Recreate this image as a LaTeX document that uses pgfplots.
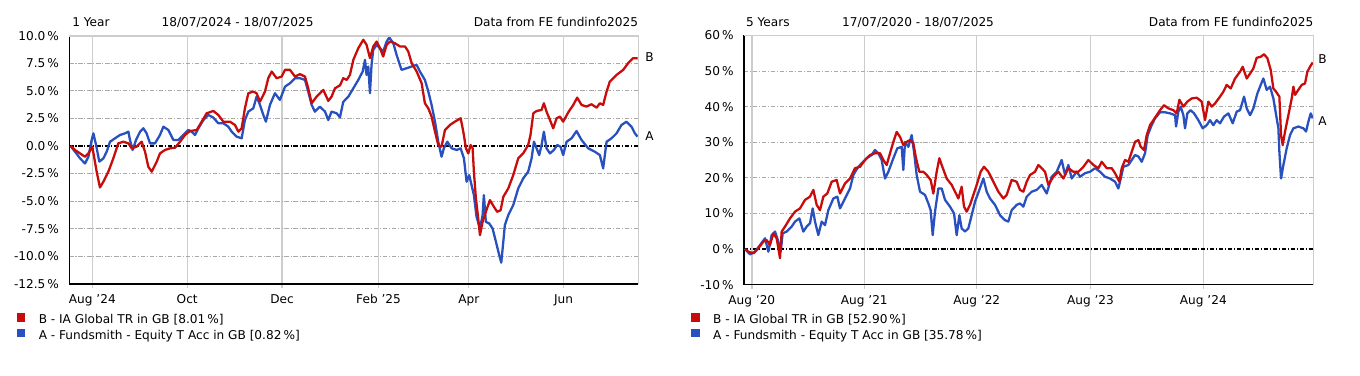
\documentclass[border=0pt]{standalone}
\usepackage{fontspec}
\setmainfont{DejaVu Sans}
\usepackage{pgfplots}
\pgfplotsset{compat=1.18}
\definecolor{fred}{RGB}{200,12,12}
\definecolor{fblue}{RGB}{40,80,190}
\definecolor{vgrid}{RGB}{205,205,205}
\definecolor{hgrid}{RGB}{170,170,170}
\newcommand\fs{\fontsize{6.9}{8.3}\selectfont}
\pgfplotsset{fe/.style={
  scale only axis, clip=false, anchor=south west,
  axis lines=left, axis line style={-, black, line width=0.9pt},
  font=\fs, tick label style={font=\fs},
  xmajorgrids, ymajorgrids,
  major x grid style={vgrid, line width=0.8pt},
  major y grid style={hgrid, line width=0.5pt, dash pattern=on 2.5pt off 1pt on 0.6pt off 1pt},
  tick align=outside,
  xtick style={vgrid, line width=0.8pt}, major tick length=2.3pt,
  ytick style={draw=none},
  yticklabel style={anchor=east, inner sep=0pt, xshift=-3.4pt},
  xticklabel style={anchor=base, inner sep=0pt, yshift=-8.8pt},
  extra y ticks={0}, extra y tick labels={},
  extra y tick style={major y grid style={black, line width=0.6pt, dash pattern=on 2.5pt off 1pt on 0.6pt off 1pt}},
  every axis plot/.append style={line width=1.3pt, line join=round, no markers},
}}
\begin{document}
\begin{tikzpicture}
\useasboundingbox (0,0) rectangle (27.2cm,7.5cm);
% ---------------- left: 1 year ----------------
\begin{axis}[fe, at={(1.386cm,1.824cm)}, width=11.38cm, height=4.96cm,
  xmin=-0.8, xmax=365, ymin=-12.5, ymax=10,
  xtick={14,75,136,198,256,317}, xticklabels={Aug '24,Oct,Dec,Feb '25,Apr,Jun},
  ytick={-12.5,-10,-7.5,-5,-2.5,0,2.5,5,7.5,10},
  yticklabels={-12.5\,\%,-10.0\,\%,-7.5\,\%,-5.0\,\%,-2.5\,\%,0.0\,\%,2.5\,\%,5.0\,\%,7.5\,\%,10.0\,\%}]
\addplot[fblue] coordinates {
(0,0) (2.9,-0.52) (6.1,-1.12) (9.3,-1.58) (11.5,-0.97) (13.6,0.55) (14.7,1.15) (16.4,0.09) (18.5,-1.42) (21.1,-1.12) (23.2,-0.52) (25.4,0.39) (28.6,0.70) (31.8,1.0) (35,1.15) (37.2,1.30) (38.2,0.55) (39.9,-0.36) (42.1,0.55) (44.7,1.30) (46.8,1.61) (48.9,1.15) (51.1,0.24) (54.3,0.24) (57.5,1.0) (59.7,1.76) (62.9,1.45) (66.1,0.55) (69.3,0.55) (72.5,1.0) (75.7,1.45) (77.9,1.30) (80,1.0) (82.2,1.61) (85.4,2.36) (88.6,2.82) (91.8,2.58) (95,2.06) (98.2,2.06) (101.4,1.76) (103.6,1.30) (106.8,0.85) (110,0.70) (112.1,2.36) (114.3,3.12) (117.5,3.42) (119.6,4.48) (121.8,3.73) (123.9,2.82) (125.6,2.21) (128.2,3.73) (131.4,4.79) (134.6,4.18) (137.9,5.39) (141.1,5.70) (144.3,6.15) (147.5,6.15) (150.7,6.0) (152.8,4.94) (155,3.73) (157.1,3.12) (160.3,3.58) (163.6,3.12) (165.7,2.36) (167.8,3.12) (171.1,2.97) (173.2,2.6) (175.3,4.0) (178.6,4.48) (181.8,5.24) (185,6.0) (187.8,6.76) (189.3,7.82) (190.3,6.45) (191.4,7.21) (192.5,4.79) (193.5,7.36) (194.6,8.73) (196.8,9.18) (198.9,8.88) (201,8.58) (203.2,9.48) (204.9,9.85) (207.5,9.33) (209.6,8.27) (212.8,6.91) (216,7.06) (219.3,7.21) (222.5,7.36) (224.6,6.76) (227.8,6.0) (230,4.94) (232.1,3.73) (234.3,2.21) (236.4,0.39) (238.5,-0.97) (240,-0.21) (242.2,0.39) (245,-0.21) (248.2,-0.36) (250.8,-0.21) (252.9,-1.12) (254.6,-3.24) (256.3,-2.64) (257.8,-3.55) (259.3,-4.45) (261,-6.42) (263.2,-7.48) (264.9,-6.27) (265.7,-4.45) (267,-6.88) (269.2,-7.03) (271.3,-7.48) (273.5,-8.70) (275.6,-9.91) (276.9,-10.58) (278.2,-8.70) (279.2,-7.18) (281.4,-6.27) (284.6,-5.36) (287.8,-3.85) (291,-2.94) (294.2,-2.33) (296.4,-1.12) (297.9,0.39) (299.6,-0.21) (301.3,-0.82) (302.8,0.09) (304.3,1.30) (306,-0.21) (308.2,-0.67) (310.7,-0.36) (312.9,0.09) (315,-0.06) (316.7,-0.82) (318.9,0.39) (322.1,0.70) (325.3,1.36) (328.5,0.55) (332.8,-0.21) (337.1,-0.52) (340.3,-0.82) (342.4,-2.03) (344.6,0.39) (347.8,0.70) (351,1.15) (354.2,1.91) (357.4,2.21) (360.6,1.76) (362.8,1.15) (364.5,0.85)};
\addplot[fred] coordinates {
(0,0) (2.9,-0.36) (6.1,-0.67) (9.3,-0.97) (11.5,-0.67) (14,-0.06) (16.8,-2.33) (18.9,-3.76) (21.1,-3.24) (24.3,-2.33) (27.5,-1.12) (30.7,0.24) (33.9,0.39) (37.2,0.24) (39.3,-0.21) (42.5,-0.06) (45.7,0.39) (47.9,-0.52) (50,-1.88) (52.2,-2.33) (55.4,-1.42) (57.5,-0.67) (60.7,-0.36) (63.9,-0.21) (67.2,-0.15) (70.4,0.39) (73.6,1.0) (76.8,1.36) (81.1,1.45) (84.3,2.21) (87.5,2.97) (91.8,3.18) (95,2.82) (98.2,2.21) (102.5,2.21) (105.7,1.91) (107.9,1.30) (110,1.61) (112.1,3.42) (114.3,4.79) (117.5,4.94) (119.6,4.79) (121.8,4.03) (125,4.94) (127.1,6.15) (129.3,6.76) (132.5,6.15) (135.7,6.30) (137.9,6.91) (141.1,6.91) (144.3,6.30) (147.5,6.52) (150.7,6.30) (152.8,5.24) (155,3.88) (158.2,4.48) (162.5,5.09) (165.7,4.09) (167.8,4.48) (170,5.24) (173.2,5.5) (175.3,6.15) (177.5,6.0) (179.6,6.45) (181.8,7.82) (185,8.88) (188.2,9.64) (190.3,9.18) (192.5,7.97) (194.6,9.03) (196.8,9.48) (198.9,8.88) (201,8.12) (203.2,9.18) (205.3,9.48) (208.5,9.33) (211.8,9.03) (215,9.03) (217.1,8.58) (219.3,7.52) (222.5,6.76) (225.7,5.70) (227.8,3.88) (230,3.42) (232.1,2.67) (234.3,1.30) (236.4,0.09) (238.5,-0.06) (240.7,1.45) (243.9,1.91) (247.1,2.21) (250.8,2.52) (252.5,1.30) (254.2,-0.21) (255.7,-0.67) (257.2,0.09) (258.5,-0.21) (259.3,-2.33) (260.6,-4.76) (262.1,-6.58) (263.2,-8.09) (264.9,-6.88) (267,-5.97) (269.6,-4.91) (272.2,-5.52) (274.3,-5.97) (276.5,-5.82) (278.2,-4.61) (281.4,-3.85) (284.6,-2.64) (287.8,-1.12) (291,-0.67) (294.2,0.09) (295.7,1.0) (297.5,2.97) (299.6,3.18) (302.8,3.27) (304.3,3.88) (306,3.12) (308.2,2.36) (310.3,1.61) (312.5,2.52) (314.6,2.67) (316.7,2.21) (320,3.06) (323.2,3.73) (325.7,4.39) (328.5,3.73) (331.7,3.58) (334.9,3.79) (338.2,3.48) (340.3,3.88) (342.4,3.73) (344.6,4.94) (346.7,5.85) (351,6.45) (355.3,6.91) (358.5,7.52) (361.7,7.97) (364.5,7.95)};
\draw[vgrid, line width=0.9pt] (rel axis cs:0,1) -- (rel axis cs:1,1) -- (rel axis cs:1,0);
\node[anchor=west, inner sep=0pt, xshift=3.8pt, font=\fs] at (axis cs:365,8.1) {B};
\node[anchor=west, inner sep=0pt, xshift=3.8pt, font=\fs] at (axis cs:365,0.86) {A};
\end{axis}
% ---------------- right: 5 years ----------------
\begin{axis}[fe, at={(14.88cm,1.808cm)}, width=11.386cm, height=4.984cm,
  xmin=0, xmax=1827, ymin=-10, ymax=60,
  xtick={25,386,747,1112,1474}, xticklabels={Aug '20,Aug '21,Aug '22,Aug '23,Aug '24},
  ytick={-10,0,10,20,30,40,50,60},
  yticklabels={-10\,\%,0\,\%,10\,\%,20\,\%,30\,\%,40\,\%,50\,\%,60\,\%}]
\addplot[fblue] coordinates {
(3.2,0) (19.3,-1.5) (35.3,-0.75) (51.3,1.1) (67.4,3.0) (78.1,-0.75) (88.8,3.9) (99.5,4.9) (110.2,2.06) (117.7,-0.75) (124.1,4.4) (137,4.9) (153,6.3) (163.7,7.7) (177.6,8.6) (190.4,4.9) (201.1,6.3) (211.8,7.2) (220.4,11.4) (227.9,7.7) (238.5,3.9) (249.2,7.7) (259.9,6.7) (270.6,10.9) (286.7,14.2) (299.5,14.7) (308.1,11.4) (324.1,14.2) (340.2,17.0) (350.9,20.8) (363.7,22.7) (377.6,24.1) (393.7,25.5) (409.7,26.4) (420.4,27.8) (431.1,26.9) (441.8,25.0) (452.5,19.8) (463.2,21.7) (479.3,25.5) (492.1,28.3) (506,28.7) (511.3,22.2) (516.7,30.1) (527.4,28.7) (538.1,32.0) (545.6,27.3) (554.1,20.8) (564.8,16.1) (580.9,15.2) (591.6,12.8) (599,10.9) (605.5,3.9) (613,10.5) (623.7,17.0) (634.4,17.0) (645.1,13.8) (661.1,11.9) (674,10.0) (682.5,3.9) (691.1,9.5) (698.5,5.8) (709.2,4.9) (719.9,5.8) (730.6,9.5) (741.4,13.3) (755.2,16.6) (768.1,19.8) (778.8,16.1) (789.4,14.2) (805.5,12.4) (821.6,9.5) (837.6,8.1) (848.3,7.7) (859,10.9) (875.1,12.4) (885.8,12.8) (896.5,11.9) (907.2,14.7) (923.2,16.1) (939.3,16.6) (955.3,18.0) (971.4,15.6) (987.4,20.3) (1003.5,21.7) (1019.5,25.0) (1030.2,20.8) (1040.9,23.6) (1051.6,19.8) (1067.7,21.7) (1078.4,20.3) (1094.4,21.3) (1110.5,21.7) (1126.5,22.7) (1142.6,21.7) (1158.6,20.3) (1174.7,19.8) (1190.7,18.9) (1201.4,17.0) (1206.7,18.9) (1217.4,23.1) (1233.5,23.6) (1244.2,25.0) (1254.9,26.4) (1265.6,26.0) (1276.3,24.5) (1287,26.9) (1295.5,32.0) (1308.3,34.8) (1319,36.7) (1335.1,38.4) (1351.2,38.4) (1367.2,38.1) (1383.3,37.6) (1386.5,34.4) (1394,38.6) (1401.4,40.0) (1410,37.6) (1415.3,33.9) (1422.8,38.1) (1433.5,39.0) (1444.2,38.1) (1458.1,36.2) (1472,33.9) (1484.9,34.8) (1495.5,36.2) (1506.2,34.8) (1516.9,36.2) (1527.6,35.3) (1540.5,37.2) (1554.4,38.1) (1568.3,35.3) (1581.2,38.6) (1591.9,39.0) (1604.7,42.8) (1613.3,39.5) (1624,37.6) (1634.6,39.5) (1647.5,43.7) (1658.2,46.1) (1666.7,47.9) (1677.4,44.7) (1688.1,45.6) (1698.8,42.3) (1709.5,36.7) (1714.9,33.9) (1718.1,27.3) (1723.4,19.8) (1731,23.6) (1741.6,28.3) (1752.3,32.0) (1763,33.9) (1779,34.4) (1795.1,33.9) (1803.7,33.0) (1811.2,35.8) (1818.7,38.1) (1825,36.7)};
\addplot[fred] coordinates {
(3.2,0) (13.9,-0.75) (30,-1.2) (46,0.2) (62,2.06) (72.7,2.5) (83.4,1.1) (94.1,4.4) (104.8,3.0) (115.5,-2.6) (120.9,4.9) (131.6,6.3) (147.6,8.6) (163.7,10.5) (179.7,11.4) (195.8,13.8) (211.8,14.7) (222.5,16.6) (233.2,12.4) (243.9,10.9) (254.6,14.7) (267.4,15.6) (281.3,18.9) (297.4,19.4) (308.1,15.6) (324.1,18.4) (340.2,19.8) (356.2,22.7) (372.3,23.1) (388.3,25.0) (404.4,26.4) (420.4,26.9) (436.5,26.9) (447.2,25.0) (457.9,23.6) (468.6,26.9) (479.3,30.1) (490,32.9) (500.7,31.5) (511.3,29.2) (522,30.1) (532.7,30.6) (543.4,29.7) (552,25.5) (562.7,21.7) (575.5,21.7) (586.2,20.8) (599,19.4) (607.6,15.6) (618.3,21.7) (626.9,25.5) (634.4,23.6) (650.4,19.8) (666.5,18.0) (677.2,16.1) (687.9,14.2) (698.5,17.5) (706,11.9) (714.6,10.5) (725.3,12.4) (736,15.2) (746.7,18.0) (759.5,21.7) (770.2,23.1) (784.1,21.7) (800.2,18.9) (816.2,16.1) (832.3,14.2) (843,15.2) (859,19.4) (875.1,18.9) (885.8,16.6) (896.5,16.1) (907.2,18.9) (917.9,20.8) (933.9,21.7) (944.6,23.6) (955.3,22.7) (966,21.7) (976.7,18.0) (992.8,20.3) (1008.8,21.7) (1024.9,19.8) (1040.9,22.7) (1057,21.7) (1073,21.7) (1089.1,23.1) (1105.1,25.0) (1121.2,23.6) (1137.2,22.7) (1147.9,24.5) (1164,22.7) (1180,22.7) (1190.7,21.3) (1204.6,18.9) (1212.1,22.7) (1222.8,25.0) (1233.5,24.5) (1244.2,27.3) (1254.9,30.1) (1265.6,30.6) (1273.1,28.7) (1283.7,27.8) (1292.3,32.0) (1303,34.8) (1313.7,36.2) (1324.4,37.6) (1335.1,39.0) (1347.9,40.4) (1361.8,39.5) (1377.9,39.0) (1388.6,38.1) (1397.2,41.9) (1410,40.0) (1422.8,41.4) (1436.7,42.3) (1452.8,42.5) (1468.8,41.4) (1479.5,36.2) (1490.2,41.4) (1500.9,40.0) (1511.6,40.9) (1527.6,42.8) (1538.3,44.2) (1549,46.1) (1561.9,45.1) (1575.8,47.9) (1591.9,49.8) (1600.4,51.2) (1613.3,47.9) (1624,49.3) (1634.6,50.7) (1645.3,53.7) (1658.2,54.0) (1668.9,54.7) (1679.6,53.6) (1690.3,50.3) (1698.8,45.1) (1707.4,44.2) (1718.1,42.8) (1723.4,32.0) (1728.8,29.2) (1736.3,33.0) (1747,37.6) (1757.7,42.3) (1763,45.6) (1768.4,43.3) (1779,44.7) (1789.7,46.1) (1800.4,46.5) (1807.9,49.8) (1816.5,51.2) (1825,52.4)};
\draw[vgrid, line width=0.9pt] (rel axis cs:0,1) -- (rel axis cs:1,1) -- (rel axis cs:1,0);
\node[anchor=west, inner sep=0pt, xshift=2.7pt, font=\fs] at (axis cs:1827,53.3) {B};
\node[anchor=west, inner sep=0pt, xshift=2.7pt, font=\fs] at (axis cs:1827,35.8) {A};
\end{axis}
% ---------------- titles and legends ----------------
\begin{scope}[x=0.02cm, y=0.02cm, every node/.style={inner sep=0pt, font=\fs}]
\node[anchor=base west] at (72,348.5) {1 Year};
\node[anchor=base west] at (161.3,348.5) {18/07/2024 - 18/07/2025};
\node[anchor=base east] at (638.3,348.5) {Data from FE fundinfo2025};
\node[anchor=base west] at (745.5,348.5) {5 Years};
\node[anchor=base west] at (841.6,348.5) {17/07/2020 - 18/07/2025};
\node[anchor=base east] at (1313.3,348.5) {Data from FE fundinfo2025};
\fill[fred] (16.6,53.3) rectangle (25.3,61.7);
\node[anchor=base west] at (38.4,51) {B - IA Global TR in GB [8.01\,\%]};
\fill[fblue] (16.6,37.7) rectangle (25.3,46);
\node[anchor=base west] at (38.4,35.5) {A - Fundsmith - Equity T Acc in GB [0.82\,\%]};
\fill[fred] (691,53.3) rectangle (699.6,61.7);
\node[anchor=base west] at (712.7,51) {B - IA Global TR in GB [52.90\,\%]};
\fill[fblue] (691,37.7) rectangle (699.6,46);
\node[anchor=base west] at (712.7,35.5) {A - Fundsmith - Equity T Acc in GB [35.78\,\%]};
\end{scope}
\end{tikzpicture}
\end{document}
